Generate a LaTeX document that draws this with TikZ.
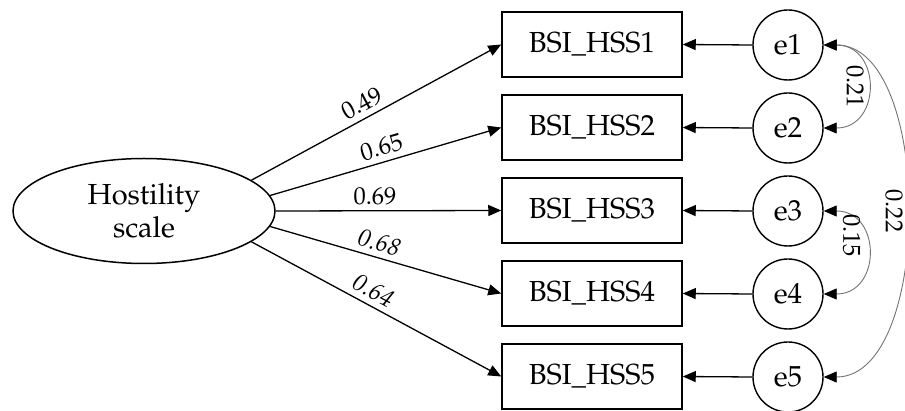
\documentclass[tikz,border=0pt]{standalone}
\usepackage[T1]{fontenc}
\usepackage{mathpazo}
\usetikzlibrary{arrows.meta,shapes.geometric}
\begin{document}
\begin{tikzpicture}[x=1pt,y=-1pt,
  every node/.style={font=\fontsize{29}{33}\selectfont},
  latent/.style={ellipse,draw,line width=1.5pt,minimum width=262pt,minimum height=105pt,inner sep=0pt,align=center},
  obs/.style={rectangle,draw,line width=1.5pt,minimum width=180pt,minimum height=65pt,inner sep=0pt},
  err/.style={circle,draw,line width=1.4pt,minimum size=70pt,inner sep=0pt},
  path/.style={line width=1.3pt,-{Triangle[length=13pt,width=11pt]}},
  cov/.style={line width=0.9pt,draw=black!55,{Triangle[length=13pt,width=11pt,fill=black,color=black]}-{Triangle[length=13pt,width=11pt,fill=black,color=black]}},
  coef/.style={font=\fontsize{24.5}{28}\selectfont,sloped,above=2.5pt,inner sep=3pt},
  covlab/.style={font=\fontsize{24.5}{28}\selectfont,rotate=-90,anchor=north,inner sep=3pt}
]
\useasboundingbox (0,0) rectangle (905,411);
\node[latent] (H) at (144,211) {Hostility\\scale};
\node[obs] (b1) at (592,44.5) {BSI\_HSS1};
\node[obs] (b2) at (592,127.5) {BSI\_HSS2};
\node[obs] (b3) at (592,210.5) {BSI\_HSS3};
\node[obs] (b4) at (592,293.5) {BSI\_HSS4};
\node[obs] (b5) at (592,376.5) {BSI\_HSS5};
\node[err] (e1) at (788,45) {e1};
\node[err] (e2) at (788,128) {e2};
\node[err] (e3) at (788,211) {e3};
\node[err] (e4) at (788,294) {e4};
\node[err] (e5) at (788,377) {e5};

\draw[path] (H.16) -- (b1.west) node[coef,pos=0.47] {0.49};
\draw[path] (H.7) -- (b2.west) node[coef,pos=0.5] {0.65};
\draw[path] (H.0) -- (b3.west) node[coef,pos=0.44] {0.69};
\draw[path] (H.-7) -- (b4.west) node[coef,pos=0.455,font=\fontsize{24.5}{28}\selectfont\itshape] {0.68};
\draw[path] (H.-16) -- (b5.west) node[coef,pos=0.46,font=\fontsize{24.5}{28}\selectfont\itshape] {0.64};

\foreach \i in {1,...,5} \draw[path] (e\i.west) -- (b\i.east);

\draw[cov] (e1.east) .. controls +(58,0) and +(58,0) .. (e2.east) node[covlab,pos=0.5] {0.21};
\draw[cov] (e3.east) .. controls +(58,0) and +(58,0) .. (e4.east) node[covlab,pos=0.36] {0.15};
\draw[cov] (e1.east) .. controls +(110,0) and +(110,0) .. (e5.east) node[covlab,pos=0.5] {0.22};
\end{tikzpicture}
\end{document}
